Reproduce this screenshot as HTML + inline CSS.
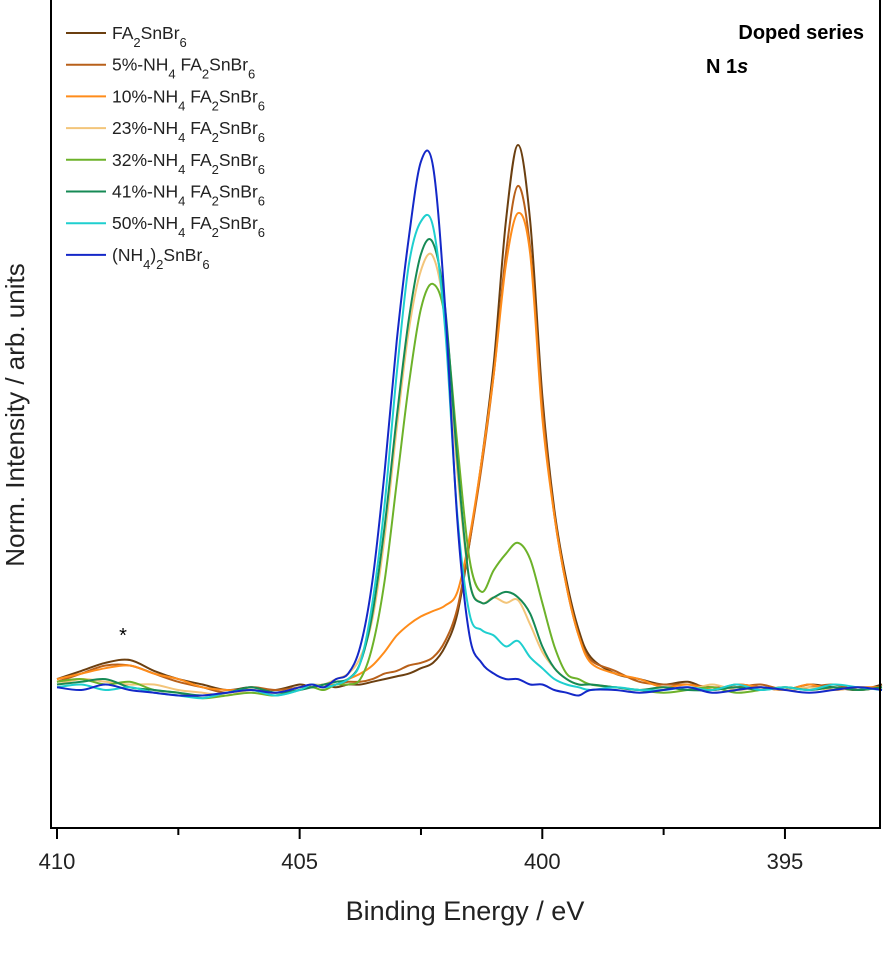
<!DOCTYPE html>
<html><head><meta charset="utf-8"><style>
body{margin:0;background:#fff;}
svg text{font-family:"Liberation Sans",Arial,sans-serif;}
</style></head><body>
<svg id="chart" width="895" height="962" xmlns="http://www.w3.org/2000/svg">
<g id="series"></g>
<line x1="51" y1="0" x2="51" y2="829" stroke="#000" stroke-width="2"/>
<line x1="880" y1="0" x2="880" y2="829" stroke="#000" stroke-width="2"/>
<line x1="50" y1="828" x2="881" y2="828" stroke="#000" stroke-width="2"/>
<g id="xticks"></g>
<text x="465" y="920" font-size="27" text-anchor="middle" fill="#222">Binding Energy / eV</text>
<text transform="translate(24,415) rotate(-90)" font-size="26" text-anchor="middle" fill="#222">Norm. Intensity / arb. units</text>
<text x="864" y="39" font-size="20" font-weight="bold" text-anchor="end">Doped series</text>
<text x="706" y="73" font-size="20" font-weight="bold">N 1<tspan font-style="italic">s</tspan></text>
<text x="123" y="642" font-size="20" text-anchor="middle">*</text>
<g id="legend"></g>
</svg>
<script>
const energies=[410,409.5,409,408.5,408,407.5,407,406.5,406,405.5,405,
404.75,404.5,404.25,404,403.75,403.5,403.25,403,402.75,402.5,402.25,402,401.75,401.5,401.25,401,400.75,400.5,400.25,400,399.75,399.5,399.25,399,
398.5,398,397.5,397,396.5,396,395.5,395,394.5,394,393.5,393];
const seriesNames=["FA2SnBr6","5%-NH4 FA2SnBr6","10%-NH4 FA2SnBr6","23%-NH4 FA2SnBr6","32%-NH4 FA2SnBr6","41%-NH4 FA2SnBr6","50%-NH4 FA2SnBr6","(NH4)2SnBr6"];
const sFA=[0.02,0.035,0.05,0.055,0.035,0.02,0.01,0.0,0.005,0.0,0.01,
0.005,0.01,0.005,0.01,0.01,0.015,0.02,0.025,0.03,0.04,0.05,0.08,0.14,0.27,0.42,0.6,0.86,1.0,0.86,0.54,0.33,0.2,0.11,0.06,
0.03,0.02,0.01,0.015,0.0,0.01,0.005,0.0,0.01,0.005,0.0,0.01];
const s5=[0.015,0.03,0.045,0.045,0.03,0.015,0.005,-0.005,0.005,0.0,0.005,
0.01,0.005,0.01,0.015,0.015,0.02,0.03,0.035,0.045,0.05,0.06,0.09,0.15,0.27,0.41,0.58,0.8,0.925,0.81,0.52,0.32,0.19,0.1,0.055,
0.035,0.015,0.01,0.01,0.005,0.005,0.01,0.0,0.005,0.01,0.0,0.005];
const s10=[0.02,0.03,0.04,0.045,0.03,0.02,0.005,0.0,0.0,-0.005,0.005,
0.005,0.01,0.01,0.02,0.03,0.045,0.07,0.1,0.12,0.135,0.145,0.155,0.18,0.28,0.42,0.58,0.78,0.875,0.8,0.5,0.32,0.19,0.1,0.05,
0.03,0.02,0.005,0.01,0.0,0.01,0.005,0.0,0.01,0.0,0.005,0.005];
const s23=[0.01,0.02,0.015,0.01,0.01,0.0,-0.005,-0.01,0.0,-0.005,0.005,
0.01,0.01,0.02,0.03,0.06,0.13,0.28,0.48,0.66,0.77,0.795,0.68,0.4,0.2,0.16,0.17,0.16,0.165,0.12,0.07,0.04,0.02,0.01,0.01,
0.005,0.0,0.005,0.0,0.01,0.0,0.005,0.0,0.005,0.0,0.005,0.0];
const s32=[0.015,0.02,0.01,0.015,0.0,-0.005,-0.015,-0.01,-0.005,-0.01,0.0,
0.005,0.0,0.01,0.01,0.02,0.08,0.2,0.38,0.56,0.7,0.745,0.68,0.45,0.24,0.18,0.22,0.25,0.27,0.24,0.16,0.08,0.03,0.02,0.01,
0.005,0.0,-0.005,0.0,0.005,-0.005,0.0,0.005,0.0,0.005,0.0,0.005];
const s41=[0.01,0.015,0.02,0.005,0.0,-0.005,-0.01,-0.005,0.005,-0.005,0.0,
0.005,0.01,0.015,0.02,0.05,0.14,0.3,0.5,0.68,0.8,0.82,0.7,0.42,0.2,0.16,0.17,0.18,0.17,0.14,0.08,0.04,0.02,0.01,0.01,
0.005,0.0,0.005,0.0,0.0,0.005,0.0,0.005,0.0,0.005,0.0,0.005];
const s50=[0.005,0.01,0.0,0.005,-0.005,-0.01,-0.015,-0.005,0.0,-0.01,0.0,
0.01,0.005,0.01,0.02,0.05,0.16,0.34,0.58,0.78,0.86,0.85,0.66,0.32,0.14,0.11,0.1,0.08,0.09,0.06,0.04,0.02,0.01,0.005,0.0,
0.005,0.0,0.0,0.005,0.0,0.01,0.0,0.005,0.0,0.01,0.005,0.0];
const sNH4=[0.005,0.0,0.01,0.0,-0.005,-0.01,-0.01,-0.005,0.0,-0.005,0.005,
0.01,0.005,0.02,0.03,0.08,0.2,0.4,0.64,0.83,0.97,0.96,0.7,0.31,0.1,0.05,0.03,0.02,0.02,0.01,0.01,0.0,-0.005,-0.01,0.0,
0.0,-0.005,0.0,0.005,-0.005,0.0,0.005,0.0,-0.005,0.0,0.005,0.0];
const seriesValues=[sFA,s5,s10,s23,s32,s41,s50,sNH4];
const seriesColors=["#6b3f10","#b8601a","#ff8c1a","#f3c57a","#6db22a","#168a55","#1fcfcf","#1428c8"];
const xTicks=[410,405,400,395];
const xMinor=[407.5,402.5,397.5];

const NS="http://www.w3.org/2000/svg";
function xS(e){return 57+(410-e)*48.53;}
function yS(v){return 690-v*545;}
function smoothPath(pts){
  let d='M'+pts[0][0].toFixed(1)+','+pts[0][1].toFixed(1);
  for(let i=0;i<pts.length-1;i++){
    const p0=pts[i-1]||pts[i],p1=pts[i],p2=pts[i+1],p3=pts[i+2]||p2;
    const c1x=p1[0]+(p2[0]-p0[0])/6,c1y=p1[1]+(p2[1]-p0[1])/6;
    const c2x=p2[0]-(p3[0]-p1[0])/6,c2y=p2[1]-(p3[1]-p1[1])/6;
    d+='C'+c1x.toFixed(1)+','+c1y.toFixed(1)+' '+c2x.toFixed(1)+','+c2y.toFixed(1)+' '+p2[0].toFixed(1)+','+p2[1].toFixed(1);
  }
  return d;
}
const sg=document.getElementById('series');
seriesValues.forEach((vals,i)=>{
  const p=document.createElementNS(NS,'path');
  const pts=vals.map((v,j)=>[xS(energies[j]),yS(v)]);
  p.setAttribute('d',smoothPath(pts));
  p.setAttribute('fill','none');
  p.setAttribute('stroke',seriesColors[i]);
  p.setAttribute('stroke-width','2');
  p.setAttribute('stroke-linejoin','round');
  
  
  sg.appendChild(p);
});
const tg=document.getElementById('xticks');
xTicks.forEach(t=>{
  const l=document.createElementNS(NS,'line');
  l.setAttribute('x1',xS(t));l.setAttribute('x2',xS(t));
  l.setAttribute('y1',829);l.setAttribute('y2',839);
  l.setAttribute('stroke','#000');l.setAttribute('stroke-width','2');
  
  
  tg.appendChild(l);
  const tx=document.createElementNS(NS,'text');
  tx.setAttribute('x',xS(t));tx.setAttribute('y',869);
  tx.setAttribute('font-size','22');tx.setAttribute('text-anchor','middle');tx.setAttribute('fill','#222');
  tx.textContent=t;
  
  
  tg.appendChild(tx);
});
xMinor.forEach(t=>{
  const l=document.createElementNS(NS,'line');
  l.setAttribute('x1',xS(t));l.setAttribute('x2',xS(t));
  l.setAttribute('y1',829);l.setAttribute('y2',835);
  l.setAttribute('stroke','#000');l.setAttribute('stroke-width','2');
  
  
  tg.appendChild(l);
});
const lg=document.getElementById('legend');
const sub=n=>'<tspan baseline-shift="sub" font-size="13">'+n+'</tspan>';
const labelsHTML=['FA'+sub(2)+'SnBr'+sub(6),
'5%-NH'+sub(4)+' FA'+sub(2)+'SnBr'+sub(6),
'10%-NH'+sub(4)+' FA'+sub(2)+'SnBr'+sub(6),
'23%-NH'+sub(4)+' FA'+sub(2)+'SnBr'+sub(6),
'32%-NH'+sub(4)+' FA'+sub(2)+'SnBr'+sub(6),
'41%-NH'+sub(4)+' FA'+sub(2)+'SnBr'+sub(6),
'50%-NH'+sub(4)+' FA'+sub(2)+'SnBr'+sub(6),
'(NH'+sub(4)+')'+sub(2)+'SnBr'+sub(6)];
seriesNames.forEach((n,i)=>{
  const y=33+i*31.7;
  const l=document.createElementNS(NS,'line');
  l.setAttribute('x1',66);l.setAttribute('x2',106);l.setAttribute('y1',y);l.setAttribute('y2',y);
  l.setAttribute('stroke',seriesColors[i]);l.setAttribute('stroke-width','2');
  
  
  lg.appendChild(l);
  const t=document.createElementNS(NS,'text');
  t.setAttribute('x',112);t.setAttribute('y',y+6);t.setAttribute('font-size','17.5');t.setAttribute('fill','#222');
  t.innerHTML=labelsHTML[i];
  
  
  lg.appendChild(t);
});
</script>
</body></html>
